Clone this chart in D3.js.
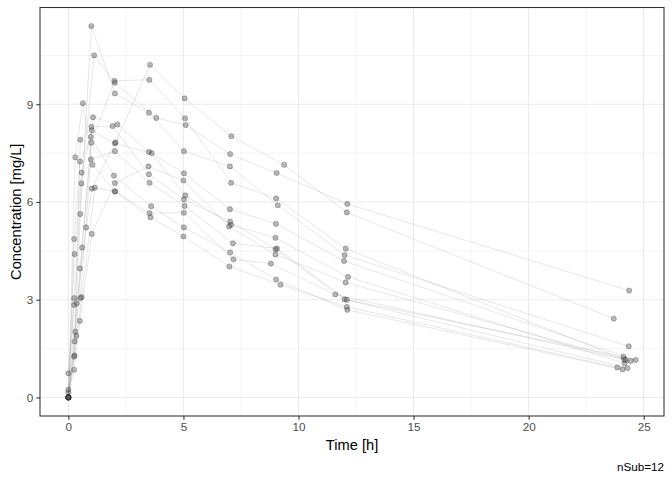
<!DOCTYPE html>
<html>
<head>
<meta charset="utf-8">
<script src="https://cdn.jsdelivr.net/npm/d3@7"></script>
<style>
  body { margin: 0; background: #fff; }
  svg { font-family: "Liberation Sans", Arial, sans-serif; }
</style>
</head>
<body>
<div id="chart"></div>
<script>
const width = 672;
const height = 480;
const margin = { top: 7.5, right: 8, bottom: 64, left: 40 };

// Theophylline: sampling times [h] and concentrations [mg/L] per subject
const subjects = [1, 2, 3, 4, 5, 6, 7, 8, 9, 10, 11, 12];
const times = [
    [0, 0.25, 0.57, 1.12, 2.02, 3.82, 5.10, 7.03, 9.05, 12.12, 24.37],
    [0, 0.27, 0.52, 1.00, 1.92, 3.50, 5.02, 7.03, 9.00, 12.00, 24.30],
    [0, 0.27, 0.58, 1.02, 2.02, 3.62, 5.08, 7.07, 9.00, 12.15, 24.17],
    [0, 0.35, 0.60, 1.07, 2.13, 3.50, 5.02, 7.02, 9.02, 11.98, 24.65],
    [0, 0.30, 0.52, 1.00, 2.02, 3.50, 5.02, 7.02, 9.10, 12.00, 24.35],
    [0, 0.27, 0.58, 1.15, 2.03, 3.57, 5.00, 7.00, 9.22, 12.10, 23.85],
    [0, 0.25, 0.50, 1.02, 2.02, 3.48, 5.00, 6.98, 9.00, 12.05, 24.22],
    [0, 0.25, 0.52, 0.98, 2.02, 3.53, 5.05, 7.15, 9.07, 12.10, 24.12],
    [0, 0.30, 0.63, 1.05, 2.02, 3.53, 5.02, 7.17, 8.80, 11.60, 24.43],
    [0, 0.37, 0.77, 1.02, 2.05, 3.55, 5.05, 7.08, 9.38, 12.10, 23.70],
    [0, 0.25, 0.50, 0.98, 1.98, 3.60, 5.02, 7.03, 9.03, 12.12, 24.08],
    [0, 0.25, 0.50, 1.00, 2.00, 3.52, 5.07, 7.07, 9.03, 12.05, 24.15]
];
const concs = [
    [0.74, 2.84, 6.57, 10.50, 9.66, 8.58, 8.36, 7.47, 6.89, 5.94, 3.28],
    [0.00, 1.72, 7.91, 8.31, 8.33, 6.85, 6.08, 5.40, 4.55, 3.01, 0.90],
    [0.00, 4.40, 6.90, 8.20, 7.80, 7.50, 6.20, 5.30, 4.90, 3.70, 1.05],
    [0.00, 1.89, 4.60, 8.60, 8.38, 7.54, 6.88, 5.78, 5.33, 4.19, 1.15],
    [0.00, 2.02, 5.63, 11.40, 9.33, 8.74, 7.56, 7.09, 5.90, 4.37, 1.57],
    [0.00, 1.29, 3.08, 6.44, 6.32, 5.53, 4.94, 4.02, 3.46, 2.78, 0.92],
    [0.15, 0.85, 2.35, 5.02, 6.58, 7.09, 6.66, 5.25, 4.39, 3.53, 1.15],
    [0.00, 3.05, 3.05, 7.31, 7.56, 6.59, 5.88, 4.73, 4.57, 3.00, 1.25],
    [0.00, 7.37, 9.03, 7.14, 6.33, 5.66, 5.67, 4.24, 4.11, 3.16, 1.12],
    [0.24, 2.89, 5.22, 6.41, 7.83, 10.21, 9.18, 8.02, 7.14, 5.68, 2.42],
    [0.00, 4.86, 7.24, 8.00, 6.81, 5.87, 5.22, 4.45, 3.62, 2.69, 0.86],
    [0.00, 1.25, 3.96, 7.82, 9.72, 9.75, 8.57, 6.59, 6.11, 4.57, 1.17]
];
const xTicks = [0, 5, 10, 15, 20, 25];
const yTicks = [0, 3, 6, 9];
const xMinor = [2.5, 7.5, 12.5, 17.5, 22.5];
const yMinor = [1.5, 4.5, 7.5, 10.5];

const series = subjects.map((s, i) => times[i].map((t, j) => ({ t: t, c: concs[i][j] })));
const allPts = series.flat();

// ggplot-style 5% expansion
const tExt = d3.extent(allPts, d => d.t);
const cExt = d3.extent(allPts, d => d.c);
const tPad = (tExt[1] - tExt[0]) * 0.05;
const cPad = (cExt[1] - cExt[0]) * 0.05;

const xScale = d3.scaleLinear()
    .domain([tExt[0] - tPad, tExt[1] + tPad])
    .range([margin.left, width - margin.right]);
const yScale = d3.scaleLinear()
    .domain([cExt[0] - cPad, cExt[1] + cPad])
    .range([height - margin.bottom, margin.top]);

const svg = d3.select("#chart").append("svg")
    .attr("width", width)
    .attr("height", height);

const x0 = margin.left, x1 = width - margin.right;
const y0 = margin.top, y1 = height - margin.bottom;

// grid
const grid = svg.append("g");
grid.selectAll(".xminor").data(xMinor).enter().append("line")
    .attr("x1", d => xScale(d)).attr("x2", d => xScale(d))
    .attr("y1", y0).attr("y2", y1)
    .attr("stroke", "#ebebeb").attr("stroke-width", 0.55);
grid.selectAll(".yminor").data(yMinor).enter().append("line")
    .attr("y1", d => yScale(d)).attr("y2", d => yScale(d))
    .attr("x1", x0).attr("x2", x1)
    .attr("stroke", "#ebebeb").attr("stroke-width", 0.55);
grid.selectAll(".xmajor").data(xTicks).enter().append("line")
    .attr("x1", d => xScale(d)).attr("x2", d => xScale(d))
    .attr("y1", y0).attr("y2", y1)
    .attr("stroke", "#ebebeb").attr("stroke-width", 1.1);
grid.selectAll(".ymajor").data(yTicks).enter().append("line")
    .attr("y1", d => yScale(d)).attr("y2", d => yScale(d))
    .attr("x1", x0).attr("x2", x1)
    .attr("stroke", "#ebebeb").attr("stroke-width", 1.1);

// subject profiles
const line = d3.line().x(d => xScale(d.t)).y(d => yScale(d.c));
svg.append("g").selectAll("path").data(series).enter().append("path")
    .attr("d", line)
    .attr("fill", "none")
    .attr("stroke", "#999")
    .attr("stroke-opacity", 0.4)
    .attr("stroke-width", 0.6);

svg.append("g").selectAll("circle").data(allPts).enter().append("circle")
    .attr("cx", d => xScale(d.t))
    .attr("cy", d => yScale(d.c))
    .attr("r", 2.6)
    .attr("fill", "#555")
    .attr("fill-opacity", 0.4)
    .attr("stroke", "#000")
    .attr("stroke-opacity", 0.4)
    .attr("stroke-width", 0.6);

// axes
const xAxis = svg.append("g")
    .attr("transform", `translate(0,${y1})`)
    .call(d3.axisBottom(xScale).tickValues(xTicks).tickSize(3.7).tickPadding(3));
const yAxis = svg.append("g")
    .attr("transform", `translate(${x0},0)`)
    .call(d3.axisLeft(yScale).tickValues(yTicks).tickSize(3.7).tickPadding(3));
[xAxis, yAxis].forEach(a => {
    a.select(".domain").remove();
    a.selectAll(".tick line").attr("stroke", "#333").attr("stroke-width", 1.07);
    a.selectAll(".tick text").attr("fill", "#4d4d4d").style("font-size", "11.7px");
});

// panel border
svg.append("rect")
    .attr("x", x0).attr("y", y0)
    .attr("width", x1 - x0).attr("height", y1 - y0)
    .attr("fill", "none")
    .attr("stroke", "#333")
    .attr("stroke-width", 1.07);

// titles
svg.append("text")
    .attr("x", (x0 + x1) / 2).attr("y", 450)
    .attr("text-anchor", "middle")
    .style("font-size", "14.7px")
    .text("Time [h]");
svg.append("text")
    .attr("transform", `translate(21,${(y0 + y1) / 2}) rotate(-90)`)
    .attr("text-anchor", "middle")
    .style("font-size", "14.7px")
    .text("Concentration [mg/L]");
svg.append("text")
    .attr("x", 664).attr("y", 471)
    .attr("text-anchor", "end")
    .style("font-size", "11.7px")
    .text("nSub=12");
</script>
</body>
</html>
